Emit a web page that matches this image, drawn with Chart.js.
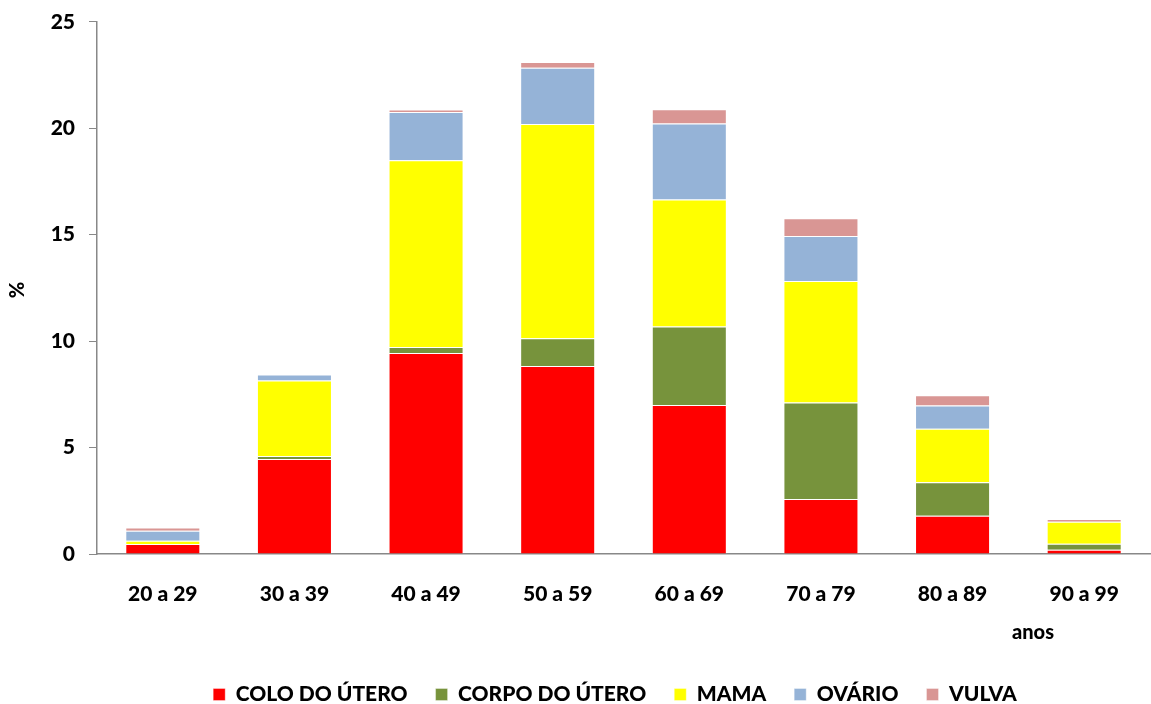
<!DOCTYPE html>
<html>
<head>
<meta charset="utf-8">
<script src="https://cdn.jsdelivr.net/npm/chart.js@4/dist/chart.umd.min.js"></script>
<style>
  html, body { margin: 0; padding: 0; background: #ffffff; }
  #wrap { width: 1151px; height: 704px; }
</style>
</head>
<body>
<div id="wrap"><canvas id="c" width="1151" height="704"></canvas></div>
<script>
// Faixas etárias
const faixas = ['20 a 29', '30 a 39', '40 a 49', '50 a 59', '60 a 69', '70 a 79', '80 a 89', '90 a 99'];

// Percentual por localização do câncer em cada faixa etária
const coloUtero  = [0.47, 4.46, 9.44, 8.83, 7.00, 2.58, 1.80, 0.20];
const corpoUtero = [0.00, 0.14, 0.28, 1.31, 3.69, 4.54, 1.57, 0.28];
const mama       = [0.15, 3.55, 8.78, 10.06, 5.96, 5.71, 2.51, 1.04];
const ovario     = [0.47, 0.28, 2.27, 2.64, 3.57, 2.11, 1.10, 0.00];
const vulva      = [0.16, 0.00, 0.11, 0.28, 0.67, 0.83, 0.48, 0.12];

const yTicks = [0, 5, 10, 15, 20, 25];

const FONT = 'Lato, "Open Sans", "DejaVu Sans", sans-serif';
const PESO = '900';

function serie(label, data, cor) {
  return {
    label: label,
    data: data,
    backgroundColor: cor,
    borderColor: 'rgba(255,255,255,0.35)',
    borderWidth: 1,
    categoryPercentage: 1.0,
    barPercentage: 0.57
  };
}

// Legenda centrada sob a área de plotagem (e não sob o canvas inteiro)
const legendaCentrada = {
  id: 'legendaCentrada',
  afterLayout(chart) {
    const lg = chart.legend;
    if (lg) { lg.left += 40; lg.right += 40; }
  }
};

// Títulos dos eixos: "%" à esquerda (vertical) e "anos" abaixo da última faixa
const titulosEixos = {
  id: 'titulosEixos',
  afterDraw(chart) {
    const ctx = chart.ctx;
    ctx.save();
    ctx.font = PESO + ' 20px ' + FONT;
    ctx.fillStyle = '#000000';
    ctx.textAlign = 'center';
    ctx.textBaseline = 'middle';
    ctx.fillText('anos', 1033, 633);
    ctx.translate(18, 290);
    ctx.rotate(-Math.PI / 2);
    ctx.fillText('%', 0, 0);
    ctx.restore();
  }
};

new Chart(document.getElementById('c'), {
  type: 'bar',
  data: {
    labels: faixas,
    datasets: [
      serie('COLO DO ÚTERO', coloUtero, '#FF0000'),
      serie('CORPO DO ÚTERO', corpoUtero, '#77933C'),
      serie('MAMA', mama, '#FFFF00'),
      serie('OVÁRIO', ovario, '#95B3D7'),
      serie('VULVA', vulva, '#D99694')
    ]
  },
  options: {
    responsive: false,
    animation: false,
    layout: { padding: { top: 18, right: 1, left: 0, bottom: -11 } },
    plugins: {
      tooltip: { enabled: false },
      legend: {
        position: 'bottom',
        labels: {
          color: '#000000',
          font: { family: FONT, size: 21, weight: PESO },
          boxWidth: 12,
          boxHeight: 12,
          padding: 28
        }
      }
    },
    scales: {
      x: {
        stacked: true,
        grid: { display: false, drawTicks: false },
        border: { display: true, color: '#888888', width: 1.5 },
        ticks: {
          color: '#000000',
          font: { family: FONT, size: 21, weight: PESO },
          padding: 28,
          maxRotation: 0
        },
        afterFit(axis) { axis.height = 102; }
      },
      y: {
        stacked: true,
        min: 0,
        max: 25,
        afterBuildTicks(axis) { axis.ticks = yTicks.map(v => ({ value: v })); },
        grid: { drawOnChartArea: false, drawTicks: true, tickLength: 8, color: '#888888' },
        border: { display: true, color: '#888888', width: 1.5 },
        ticks: {
          color: '#000000',
          font: { family: FONT, size: 21, weight: PESO, lineHeight: 0.75 },
          padding: 14
        },
        afterFit(axis) { axis.width = 97; }
      }
    }
  },
  plugins: [legendaCentrada, titulosEixos]
});
</script>
</body>
</html>
